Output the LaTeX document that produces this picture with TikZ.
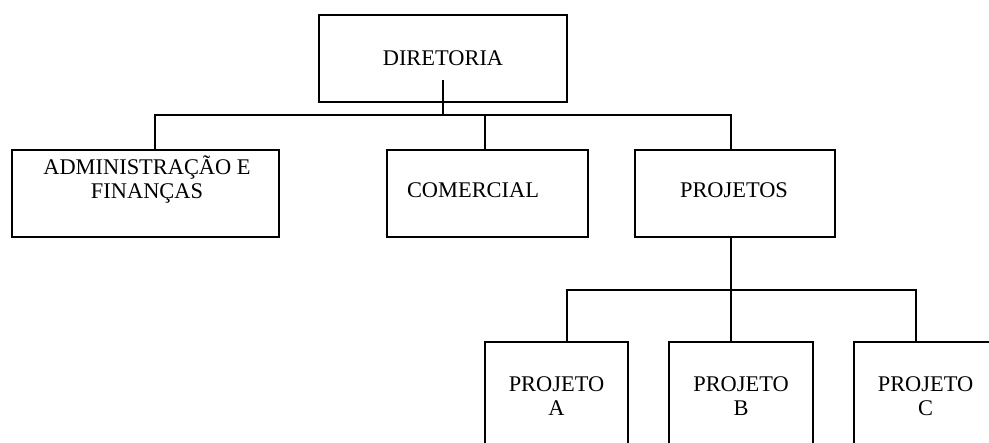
\documentclass[tikz,border=0pt]{standalone}
\usepackage{fontspec}
\setmainfont{Liberation Serif}
\usetikzlibrary{positioning}
% text of a box, moved by [dx] and dy from the box centre
\newcommand{\boxtext}[3][0pt]{\makebox[0pt]{\hspace*{#1}\hspace*{#1}\raisebox{#2}[0pt][0pt]{\begin{tabular}{@{}c@{}}#3\end{tabular}}}}
\tikzset{orgbox/.style={draw,line width=1.1pt,inner sep=0pt,outer sep=0pt,minimum height=43.5pt,font=\fontsize{11.2}{12}\selectfont},
projbox/.style={orgbox,minimum width=71.75pt,minimum height=70pt},
conn/.style={line width=1.1pt}}

\begin{document}
\begin{tikzpicture}[x=0.5pt,y=-0.5pt]
\useasboundingbox (0,0) rectangle (989,443);
\clip (0,0) rectangle (989,443);
\node[orgbox,minimum width=124pt] (dir) at (443,58.5) {\boxtext{-3.75pt}{DIRETORIA}};
\node[orgbox,minimum width=133.5pt] (adm) at (145.5,193.5) {\boxtext[0.75pt]{3.75pt}{ADMINISTRAÇÃO E\\FINANÇAS}};
\node[orgbox,minimum width=100.5pt,right=54pt of adm] (com) {\boxtext[-7.25pt]{-2.25pt}{COMERCIAL}};
\node[orgbox,minimum width=100pt,right=23.5pt of com] (proj) {\boxtext[-0.5pt]{-2.25pt}{PROJETOS}};
\node[projbox] (pa) at (556.5,412) {\boxtext{4pt}{PROJETO\\A}};
\node[projbox,right=20.5pt of pa] (pb) {\boxtext{4pt}{PROJETO\\B}};
\node[projbox,right=20.5pt of pb] (pc) {\boxtext{4pt}{PROJETO\\C}};
% bus under DIRETORIA
\coordinate (dirstem) at (443,80);
\coordinate (busL) at (155,115);
\coordinate (busC) at (485,115);
\coordinate (busR) at (731,115);
\draw[conn] (dirstem) -- (dirstem |- busL);
\draw[conn] (busL |- adm.north) -- (busL) -- (busR) -- (busR |- proj.north);
\draw[conn] (busC) -- (busC |- com.north);
% bus under PROJETOS
\coordinate (subL) at (567,290);
\coordinate (subM) at (731,290);
\coordinate (subR) at (916,290);
\draw[conn] (proj.south -| subM) -- (subM |- pb.north);
\draw[conn] (subL |- pa.north) -- (subL) -- (subR) -- (subR |- pc.north);
\end{tikzpicture}
\end{document}
